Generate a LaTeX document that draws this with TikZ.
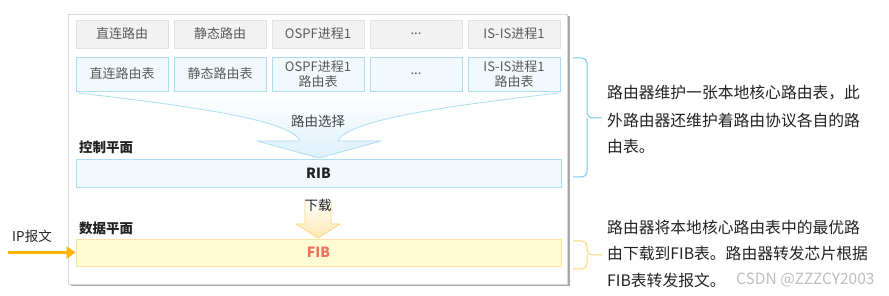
\documentclass[tikz,border=0pt]{standalone}
\usepackage{fontspec}
\setmainfont{Noto Sans CJK SC}
\usetikzlibrary{arrows.meta}
\definecolor{grayfill}{HTML}{F2F2F2}
\definecolor{grayline}{HTML}{E2E2E2}
\definecolor{bluefill}{HTML}{F2F9FD}
\definecolor{blueline}{HTML}{ADDDF4}
\definecolor{yelfill}{HTML}{FFFBD2}
\definecolor{yelline}{HTML}{FFE3A3}
\definecolor{bracebl}{HTML}{74CBEF}
\definecolor{braceye}{HTML}{FFD470}
\definecolor{iparrow}{HTML}{FFB400}
\definecolor{fibred}{HTML}{F0705E}
\definecolor{txt}{HTML}{222222}
\definecolor{boxtxt}{HTML}{5A5A5A}
\definecolor{frameline}{HTML}{D8D8D8}
\definecolor{frameshadow}{HTML}{A8A8A8}
\definecolor{dlline}{HTML}{FFD580}
\definecolor{dlfill}{HTML}{FFE9B0}
\definecolor{funfill}{HTML}{DDF1FB}
\definecolor{wm}{HTML}{BDBDBD}
\tikzset{
  protobox/.style={draw=grayline, fill=grayfill, line width=0.8pt, minimum width=92pt, minimum height=28pt, inner sep=0pt, text=boxtxt, font=\fontsize{13}{14}\selectfont},
  tablebox/.style={draw=blueline, fill=bluefill, line width=0.8pt, minimum width=92pt, minimum height=34pt, inner sep=0pt, text=boxtxt, align=center, font=\fontsize{13}{15.5}\selectfont},
  widebox/.style={line width=0.8pt, minimum width=485pt, inner sep=0pt, font=\bfseries\fontsize{14}{15}\selectfont},
  planelabel/.style={anchor=west, inner sep=0pt, text=txt, font=\bfseries\fontsize{13.5}{15}\selectfont},
  sidetext/.style={anchor=west, inner sep=0pt, text=txt, font=\fontsize{15.8}{17}\selectfont},
  plain/.style={inner sep=0pt, text=txt, font=\fontsize{13.5}{15}\selectfont},
}
\begin{document}
\begin{tikzpicture}[x=1pt, y=-1pt]
\useasboundingbox (0,0) rectangle (889,296);
% frame with shadow
\fill[frameshadow] (70.5,16.5) rectangle (569.5,286.5);
\filldraw[fill=white, draw=frameline, line width=0.8pt] (68,14) rectangle (567,284);
% row 1
\node[protobox] (p1) at (122,34) {直连路由};
\node[protobox] (p2) at (220,34) {静态路由};
\node[protobox] (p3) at (318,34) {OSPF进程1};
\node[protobox] (p4) at (416,34) {...};
\node[protobox] (p5) at (514,34) {IS-IS进程1};
% row 2
\node[tablebox] (t1) at (122,74) {直连路由表};
\node[tablebox] (t2) at (220,74) {静态路由表};
\node[tablebox] (t3) at (318,74) {OSPF进程1\\路由表};
\node[tablebox] (t4) at (416,74) {...};
\node[tablebox] (t5) at (514,74) {IS-IS进程1\\路由表};
% funnel arrow
\path[top color=white, bottom color=funfill]
  (78,93) .. controls (210,108) and (292,122) .. (300,141) -- (257,141) -- (319,158) -- (381,141) -- (338,141)
  .. controls (346,122) and (428,108) .. (559,93) -- cycle;
\draw[blueline, line width=0.8pt, line join=round]
  (78,93) .. controls (210,108) and (292,122) .. (300,141) -- (257,141) -- (319,158) -- (381,141) -- (338,141)
  .. controls (346,122) and (428,108) .. (559,93);
\node[plain, text=txt!85] (sel) at (318,121) {路由选择};
% control plane
\node[planelabel] (cp) at (79,147) {控制平面};
\node[widebox, draw=blueline, fill=bluefill, minimum height=28pt, text=txt] (rib) at (318.5,173) {RIB};
% download arrow
\path[top color=white, bottom color=dlfill]
  (305,200) -- (331,200) -- (331,224) -- (340,224) -- (318,238) -- (296,224) -- (305,224) -- cycle;
\draw[dlline, line width=0.8pt, line join=round]
  (305,200) -- (305,224) -- (296,224) -- (318,238) -- (340,224) -- (331,224) -- (331,200);
\node[plain] (dl) at (318,205) {下载};
% data plane
\node[planelabel] (dp) at (79,228) {数据平面};
\node[widebox, draw=yelline, fill=yelfill, minimum height=27pt, text=fibred] (fib) at (318.5,252.5) {FIB};
% IP packet arrow
\node[plain] (ip) at (32,236) {IP报文};
\coordinate (ipstart) at (8,252.5);
\draw[iparrow, line width=3pt, -{Triangle[length=9pt, width=12pt]}] (ipstart) -- (fib.west);
% braces
\draw[bracebl, line width=1pt, rounded corners=5pt] (573,58) -| (587,118) -- (602,118);
\draw[bracebl, line width=1pt, rounded corners=5pt] (573,177) -| (587,118);
\draw[braceye, line width=1pt, rounded corners=5pt] (573,241) -| (587,255) -- (602,255);
\draw[braceye, line width=1pt, rounded corners=5pt] (573,269) -| (587,255);
% side text
\node[sidetext] (s1) at (607,93) {路由器维护一张本地核心路由表，此};
\node[sidetext] (s2) at (607,120) {外路由器还维护着路由协议各自的路};
\node[sidetext] (s3) at (607,146) {由表。};
\node[sidetext] (s4) at (607,227) {路由器将本地核心路由表中的最优路};
\node[sidetext] (s5) at (607,253.5) {由下载到FIB表。路由器转发芯片根据};
\node[sidetext] (s6) at (607,280) {FIB表转发报文。};
\node[anchor=west, inner sep=0pt, text=wm, font=\fontsize{15.5}{17}\selectfont] (wmk) at (736,280) {CSDN @ZZZCY2003};
\end{tikzpicture}
\end{document}
